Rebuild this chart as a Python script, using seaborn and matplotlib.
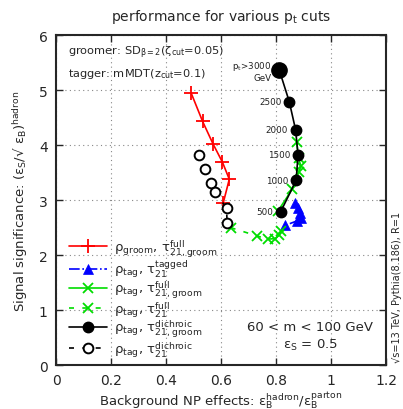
import matplotlib
matplotlib.use("Agg")
import matplotlib.pyplot as plt
import seaborn as sns
import pandas as pd

# ---- data ----
pt_cuts = [3000, 2500, 2000, 1500, 1000, 500]

groom_full_x = [0.491, 0.533, 0.571, 0.605, 0.630, 0.608]
groom_full_y = [4.95, 4.43, 4.02, 3.69, 3.38, 2.95]

tag_tagged_x = [0.870, 0.880, 0.887, 0.889, 0.875, 0.833]
tag_tagged_y = [2.95, 2.85, 2.76, 2.68, 2.62, 2.54]

tag_fullgroom_x = [0.875, 0.882, 0.890, 0.884, 0.859, 0.808]
tag_fullgroom_y = [4.05, 3.76, 3.62, 3.52, 3.20, 2.81]

tag_full_x = [0.635, 0.730, 0.769, 0.795, 0.812, 0.818]
tag_full_y = [2.50, 2.35, 2.29, 2.30, 2.36, 2.43]

dich_groom_x = [0.812, 0.848, 0.871, 0.880, 0.873, 0.817]
dich_groom_y = [5.36, 4.79, 4.28, 3.82, 3.36, 2.79]

dich_x = [0.520, 0.541, 0.562, 0.578, 0.620, 0.622]
dich_y = [3.82, 3.56, 3.32, 3.14, 2.86, 2.58]

pt_labels = ["p$_t$>3000\nGeV", "2500", "2000", "1500", "1000", "500"]

sns.set_style("ticks")
plt.rcParams['font.family'] = ['DejaVu Sans']
plt.rcParams['mathtext.fontset'] = 'dejavusans'
plt.rcParams['mathtext.default'] = 'regular'

fig = plt.figure(figsize=(4.03, 4.10), dpi=100)
ax = fig.add_axes([0.139, 0.107, 0.819, 0.805])

GREEN = "#00dd00"

def draw(x, y, color, **kw):
    df = pd.DataFrame({"x": x, "y": y})
    kw.setdefault("markeredgecolor", color)
    sns.lineplot(data=df, x="x", y="y", sort=False, estimator=None, ax=ax, color=color, **kw)

draw(groom_full_x, groom_full_y, "red", marker="+", markersize=10, mew=1.3, lw=1.2,
     linestyle="-", label=r"$\rho_{groom}$, $\tau_{21,groom}^{full}$")
draw(tag_tagged_x, tag_tagged_y, "blue", marker="^", markersize=7, mew=0.5, lw=1.2,
     linestyle="-.", label=r"$\rho_{tag}$, $\tau_{21}^{tagged}$")
draw(tag_fullgroom_x, tag_fullgroom_y, GREEN, marker="x", markersize=7, mew=1.3, lw=1.2,
     linestyle="-", label=r"$\rho_{tag}$, $\tau_{21,groom}^{full}$")
draw(tag_full_x, tag_full_y, GREEN, marker="x", markersize=7, mew=1.3, lw=1.2,
     linestyle=(0, (3, 5)), label=r"$\rho_{tag}$, $\tau_{21}^{full}$")
draw(dich_groom_x, dich_groom_y, "black", marker="o", markersize=7.5, mew=1, lw=1.2,
     linestyle="-", label=r"$\rho_{tag}$, $\tau_{21,groom}^{dichroic}$")
draw(dich_x, dich_y, "black", marker="o", markersize=7, mew=1.4, lw=1.2,
     markerfacecolor="white", linestyle=(0, (3, 5)),
     label=r"$\rho_{tag}$, $\tau_{21}^{dichroic}$")
# larger marker for the highest pt cut
ax.plot(dich_groom_x[:1], dich_groom_y[:1], "o", color="black", markersize=11, zorder=5)

for xv, yv, lab in zip(dich_groom_x, dich_groom_y, pt_labels):
    ax.text(xv - 0.028, yv, lab, fontsize=6.3, ha="right", va="center", color="#222222",
            multialignment="right")

ax.set_xlim(0, 1.2)
ax.set_ylim(0, 6)
ax.set_xticks([0, 0.2, 0.4, 0.6, 0.8, 1.0, 1.2])
ax.set_xticklabels(["0", "0.2", "0.4", "0.6", "0.8", "1", "1.2"])
ax.set_yticks([0, 1, 2, 3, 4, 5, 6])
ax.tick_params(direction="in", top=True, right=True, length=5, width=1, labelsize=10,
               pad=6)
ax.grid(True, linestyle=(0, (1, 3)), color="#888888", lw=0.8)
for s in ax.spines.values():
    s.set_linewidth(1.5)

ax.set_xlabel(r"Background NP effects: ε$_B^{hadron}$/ε$_B^{parton}$",
              fontsize=9.5, labelpad=1)
ax.set_ylabel(r"Signal significance: (ε$_S$/√ ε$_B$)$^{hadron}$",
              fontsize=9.5, labelpad=6)
ax.set_title(r"performance for various p$_t$ cuts", fontsize=10, pad=11)

ax.text(0.035, 0.948, r"groomer: SD$_{β=2}$(ζ$_{cut}$=0.05)", transform=ax.transAxes,
        fontsize=8.2, va="center")
ax.text(0.035, 0.884, r"tagger: mMDT(z$_{cut}$=0.1)", transform=ax.transAxes,
        fontsize=8.2, va="center")
ax.text(0.925, 0.71, "60 < m < 100 GeV", fontsize=9.5, ha="center", va="center")
ax.text(0.925, 0.38, r"ε$_S$ = 0.5", fontsize=9.5, ha="center", va="center")
fig.text(0.985, 0.30, r"√s=13 TeV, Pythia(8.186), R=1", rotation=90,
         fontsize=7, ha="center", va="center")

leg = ax.legend(loc="lower left", bbox_to_anchor=(0.02, 0.0), frameon=False, fontsize=9.5,
                handlelength=2.9, labelspacing=-0.06, handletextpad=0.5, borderaxespad=0.1)

fig.savefig("out.png", dpi=100)
